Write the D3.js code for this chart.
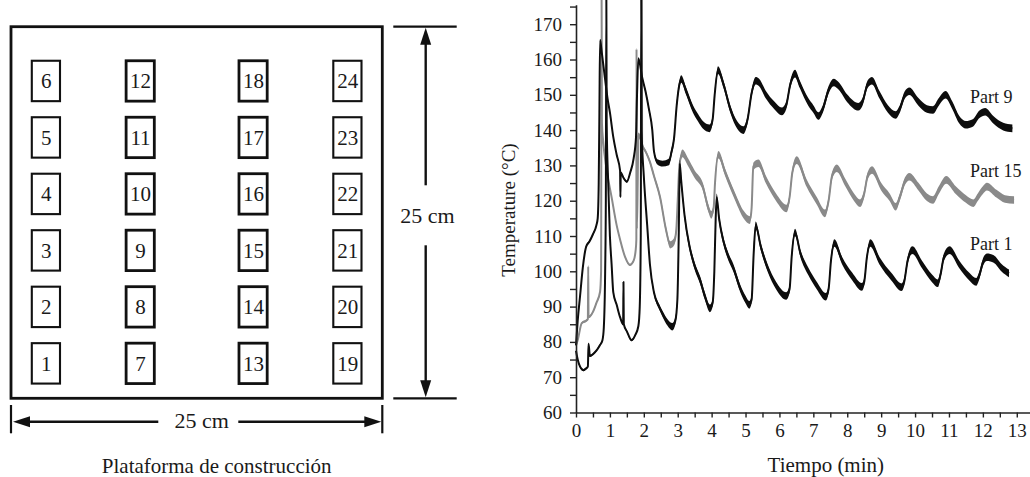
<!DOCTYPE html>
<html><head><meta charset="utf-8">
<script src="https://cdn.jsdelivr.net/npm/d3@7"></script>
<style>
body{margin:0;background:#fff}
svg{display:block}
text{font-family:"Liberation Serif","Times New Roman",serif;fill:#1a1a1a}
</style></head>
<body><svg id="c" width="1030" height="477"></svg>
<script>
// ---------- data ----------
const platformSizeCm = 25;
const platformColumnsCm = [2.35, 8.7, 16.3, 22.65];
const platformRowsCm = [2.35, 6.15, 9.95, 13.75, 17.55, 21.35];
const partIdsByColumn = [[1,2,3,4,5,6],[7,8,9,10,11,12],[13,14,15,16,17,18],[19,20,21,22,23,24]];
const dimensionLabel = "25 cm";
const platformCaption = "Plataforma de construcción";

const xTickValues = [0,1,2,3,4,5,6,7,8,9,10,11,12,13];
const yTickValues = [60,70,80,90,100,110,120,130,140,150,160,170];
const xTitle = "Tiempo (min)";
const yTitle = "Temperature (°C)";
const seriesNames = ["Part 9", "Part 15", "Part 1"];

const part9 = [[0.0,79],[0.05,86],[0.12,93],[0.2,101],[0.3,107],[0.4,108.5],[0.5,110.5],[0.6,113],[0.64,115],[0.67,125],[0.69,145],[0.71,165.5],[0.76,162],[0.85,155],[0.93,149],[1.0,145],[1.1,138],[1.2,133],[1.3,128.5],[1.31,121],[1.32,128],[1.4,126.5],[1.5,125.4],[1.6,128],[1.7,132],[1.77,138],[1.8,150],[1.84,160.3],[1.95,155],[2.05,151],[2.15,146],[2.25,140],[2.3,134],[2.4,131],[2.55,130.5],[2.74,131],[2.82,134],[2.89,137.5],[2.97,147],[3.05,153],[3.1,154.5],[3.25,151],[3.45,146],[3.6,143.5],[3.74,141.5],[3.94,140.5],[4.03,143],[4.09,150],[4.19,157],[4.35,153],[4.55,146],[4.75,141.5],[4.94,140],[5.06,143],[5.18,150.5],[5.3,154],[5.4,153.5],[5.6,150],[5.85,147],[6.07,145.3],[6.2,147],[6.32,153],[6.46,156],[6.6,153],[6.85,148],[7.0,146],[7.15,144],[7.28,146],[7.45,151.4],[7.6,153.5],[7.75,152.5],[8.0,149],[8.33,146.6],[8.45,148],[8.6,153],[8.73,154],[8.95,150],[9.2,146],[9.43,144.3],[9.55,146],[9.7,150],[9.83,151],[10.1,148],[10.35,146],[10.53,145.7],[10.7,148],[10.9,150],[11.1,147],[11.3,143],[11.5,141.5],[11.7,142],[11.9,144.5],[12.07,145.2],[12.3,143],[12.6,141],[12.87,140.5]];

const part15 = [[0.0,79],[0.05,80.5],[0.17,85.3],[0.3,86],[0.35,86.5],[0.36,101.4],[0.37,87],[0.41,87.2],[0.5,88.5],[0.6,91],[0.71,94.2],[0.74,100],[0.755,178],[0.765,142],[0.8,137],[0.9,129],[1.05,121],[1.2,113],[1.3,109],[1.45,104],[1.59,101.8],[1.7,103],[1.76,106],[1.78,109],[1.785,163],[1.795,112],[1.82,125],[1.84,139],[1.93,137],[1.94,178],[1.95,136],[2.05,134],[2.18,131],[2.3,127],[2.48,121],[2.65,112],[2.78,107.5],[2.9,108.5],[2.96,112],[3.0,120],[3.05,130],[3.14,133.4],[3.3,131],[3.5,127.5],[3.74,124],[3.9,118],[3.99,116],[4.06,118],[4.1,125],[4.2,133],[4.4,128],[4.7,121],[4.95,116],[5.13,114.5],[5.18,118],[5.23,129.7],[5.38,130.6],[5.6,126],[5.9,121],[6.21,117.8],[6.3,121],[6.38,128],[6.51,131.5],[6.8,125],[7.1,120],[7.34,116.4],[7.45,120],[7.55,127],[7.69,129.2],[7.95,125],[8.2,121],[8.38,119.3],[8.5,122],[8.6,127],[8.73,128.7],[9.0,124],[9.25,121],[9.43,118.3],[9.55,121],[9.7,125.5],[9.83,126.8],[10.1,124],[10.35,121],[10.53,120.2],[10.7,123],[10.92,125.9],[11.2,123],[11.5,120.5],[11.72,119.3],[11.85,121],[12.0,123],[12.12,124],[12.4,122],[12.65,120.5],[12.92,120.2]];

const part1 = [[0.0,77.5],[0.05,75],[0.12,73],[0.22,72],[0.3,72.5],[0.35,73],[0.37,79.5],[0.41,76],[0.5,76.5],[0.6,77.5],[0.7,79],[0.78,80.5],[0.82,84],[0.86,100],[0.88,120],[0.895,178],[0.905,142],[0.95,125],[1.0,110],[1.05,102],[1.1,94],[1.2,90.5],[1.3,87],[1.39,85],[1.4,97],[1.41,85],[1.5,83],[1.64,80.5],[1.75,82],[1.84,84.5],[1.88,90],[1.91,110],[1.925,178],[1.935,140],[2.0,127],[2.1,113],[2.18,102],[2.3,94],[2.45,90],[2.55,88],[2.7,85.5],[2.84,84.3],[2.93,86],[2.99,92],[3.03,110],[3.06,130.5],[3.1,126],[3.2,116],[3.35,107],[3.5,101.5],[3.66,97.5],[3.8,93],[3.95,89.5],[4.03,91],[4.08,100],[4.12,115],[4.15,121],[4.22,115],[4.35,108.5],[4.5,104],[4.64,101],[4.85,95],[5.0,92],[5.11,90.5],[5.18,92],[5.24,105],[5.3,113],[5.45,107],[5.65,101],[5.9,96],[6.2,93],[6.3,95],[6.36,104],[6.46,111],[6.62,105],[6.85,100],[7.1,96],[7.37,92.8],[7.45,95],[7.52,103],[7.62,108],[7.85,103],[8.15,98.5],[8.43,95.6],[8.5,97],[8.58,104],[8.68,108],[8.95,103],[9.3,98.5],[9.6,95.5],[9.68,97],[9.78,103],[9.92,106],[10.2,102],[10.5,98],[10.67,96.6],[10.75,99],[10.85,104],[11.02,106],[11.3,102],[11.6,98.5],[11.8,97],[11.9,99],[12.0,102.5],[12.12,104],[12.32,103.5],[12.55,101],[12.77,99.4]];

// ---------- drawing ----------
const svg = d3.select("#c");
const ink = "#111";

// ----- left: build platform diagram -----
const sx = d3.scaleLinear().domain([0, platformSizeCm]).range([11, 382.3]);
const sy = d3.scaleLinear().domain([0, platformSizeCm]).range([398.3, 26.7]);
const L = svg.append("g");

L.append("rect")
  .attr("x", sx(0)).attr("y", sy(platformSizeCm))
  .attr("width", sx(platformSizeCm) - sx(0)).attr("height", sy(0) - sy(platformSizeCm))
  .attr("fill", "none").attr("stroke", ink).attr("stroke-width", 2.8);

const boxW = 28.2, boxH = 40.4;
const cells = [];
platformColumnsCm.forEach((c, i) => platformRowsCm.forEach((r, j) => cells.push({c, r, i, id: partIdsByColumn[i][j]})));
const cg = L.selectAll("g.cell").data(cells).join("g").attr("class", "cell");
cg.append("rect")
  .attr("x", d => sx(d.c) - boxW / 2).attr("y", d => sy(d.r) - boxH / 2)
  .attr("width", boxW).attr("height", boxH)
  .attr("fill", "#fff").attr("stroke", ink)
  .attr("stroke-width", d => (d.i === 1 || d.i === 2) ? 2.8 : 2.1);
cg.append("text")
  .attr("x", d => sx(d.c) + 0.3).attr("y", d => sy(d.r)).attr("dy", "0.35em")
  .attr("text-anchor", "middle").attr("font-size", 21)
  .text(d => d.id);

function arrowHead(g, tipX, tipY, dir) {
  const len = 17, hw = 5.5;
  let pts;
  if (dir === "up") pts = [[tipX, tipY], [tipX - hw, tipY + len], [tipX + hw, tipY + len]];
  if (dir === "down") pts = [[tipX, tipY], [tipX - hw, tipY - len], [tipX + hw, tipY - len]];
  if (dir === "left") pts = [[tipX, tipY], [tipX + len, tipY - hw], [tipX + len, tipY + hw]];
  if (dir === "right") pts = [[tipX, tipY], [tipX - len, tipY - hw], [tipX - len, tipY + hw]];
  g.append("path").attr("d", d3.line()(pts) + "Z").attr("fill", ink);
}

// vertical dimension
const vx = 425.7, vMid = 215.3;
[sy(platformSizeCm), sy(0)].forEach(y => {
  L.append("line").attr("x1", 393.3).attr("x2", 456.7).attr("y1", y).attr("y2", y)
    .attr("stroke", ink).attr("stroke-width", 2.2);
});
L.append("line").attr("x1", vx).attr("x2", vx).attr("y1", sy(platformSizeCm) + 10).attr("y2", vMid - 30)
  .attr("stroke", ink).attr("stroke-width", 2.4);
L.append("line").attr("x1", vx).attr("x2", vx).attr("y1", vMid + 30).attr("y2", sy(0) - 10)
  .attr("stroke", ink).attr("stroke-width", 2.4);
arrowHead(L, vx, sy(platformSizeCm) + 1, "up");
arrowHead(L, vx, sy(0) - 1, "down");
L.append("text").attr("x", 427.5).attr("y", vMid).attr("dy", "0.35em")
  .attr("text-anchor", "middle").attr("font-size", 22).text(dimensionLabel);

// horizontal dimension
const hy = 421.7, hMid = 198.3;
[sx(0), sx(platformSizeCm)].forEach(x => {
  L.append("line").attr("x1", x).attr("x2", x).attr("y1", 405).attr("y2", 433.3)
    .attr("stroke", ink).attr("stroke-width", 2.2);
});
L.append("line").attr("x1", sx(0) + 10).attr("x2", hMid - 40).attr("y1", hy).attr("y2", hy)
  .attr("stroke", ink).attr("stroke-width", 2.4);
L.append("line").attr("x1", hMid + 40).attr("x2", sx(platformSizeCm) - 10).attr("y1", hy).attr("y2", hy)
  .attr("stroke", ink).attr("stroke-width", 2.4);
arrowHead(L, sx(0) + 2, hy, "left");
arrowHead(L, sx(platformSizeCm) - 1, hy, "right");
L.append("text").attr("x", 201.7).attr("y", hy - 1).attr("dy", "0.35em")
  .attr("text-anchor", "middle").attr("font-size", 22).text(dimensionLabel);

L.append("text").attr("x", 216.7).attr("y", 473)
  .attr("text-anchor", "middle").attr("font-size", 21).text(platformCaption);

// ----- right: temperature chart -----
const x = d3.scaleLinear().domain([0, 13.39]).range([576, 1030]);
const y = d3.scaleLinear().domain([60, 175.5]).range([412.5, 4.8]);
const R = svg.append("g");

const minorX = d3.range(0, 13.01, 0.5);
const xAxis = d3.axisBottom(x).tickValues(minorX).tickSize(5).tickPadding(6).tickSizeOuter(0)
  .tickFormat(d => xTickValues.includes(d) ? d : "");
const minorY = d3.range(60, 175.01, 5);
const yAxis = d3.axisLeft(y).tickValues(minorY).tickSize(6).tickPadding(8).tickSizeOuter(0)
  .tickFormat(d => yTickValues.includes(d) ? d : "");

const series = [
  {name: seriesNames[1], data: part15, color: "#8a8a8a"},
  {name: seriesNames[2], data: part1, color: "#0d0d0d"},
  {name: seriesNames[0], data: part9, color: "#0d0d0d"}
];
// noise band: thin in the early transient, thicker in the steady oscillation
const band = d => d[0] < 1.8 ? 1.1 : Math.min(3.8, 1.1 + (d[0] - 1.8) * 2.5);
const area = d3.area().curve(d3.curveMonotoneX).x(d => x(d[0])).y0(d => y(d[1]) + band(d)).y1(d => y(d[1]) - band(d));
const line = d3.line().curve(d3.curveMonotoneX).x(d => x(d[0])).y(d => y(d[1]));
series.forEach(s => {
  R.append("path").attr("d", area(s.data)).attr("fill", s.color);
  R.append("path").attr("d", line(s.data)).attr("fill", "none")
    .attr("stroke", s.color).attr("stroke-width", 2).attr("stroke-linejoin", "round");
});

const gx = R.append("g").attr("transform", `translate(0,${y(60)})`).call(xAxis);
const gy = R.append("g").attr("transform", `translate(${x(0)},0)`).call(yAxis);
[gx, gy].forEach(g => {
  g.select(".domain").attr("stroke", "#222").attr("stroke-width", 1.6);
  g.selectAll(".tick line").attr("stroke", "#222").attr("stroke-width", 1.4);
  g.selectAll(".tick text").attr("font-size", 19).attr("fill", "#1a1a1a")
    .attr("font-family", '"Liberation Serif","Times New Roman",serif');
});

R.append("text").attr("x", 825.8).attr("y", 471.5).attr("text-anchor", "middle")
  .attr("font-size", 21).text(xTitle);
R.append("text").attr("transform", "translate(515,210) rotate(-90)")
  .attr("text-anchor", "middle").attr("font-size", 19).text(yTitle);

const labelAnchors = [[seriesNames[0], 147.7], [seriesNames[1], 126.7], [seriesNames[2], 106]];
labelAnchors.forEach(([name, v]) => {
  R.append("text").attr("x", x(11.62)).attr("y", y(v)).attr("font-size", 18).text(name);
});
</script></body></html>
